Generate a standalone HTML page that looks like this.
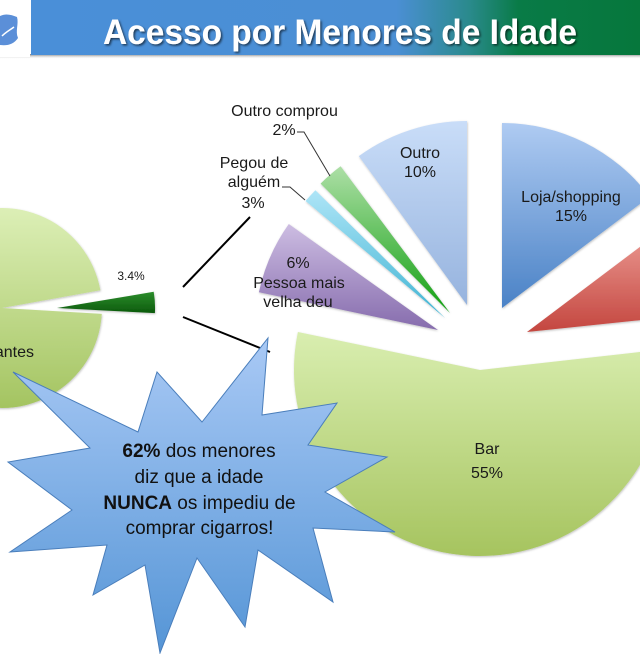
<!DOCTYPE html>
<html><head><meta charset="utf-8"><style>
html,body{margin:0;padding:0;background:#fff;}
svg{display:block;}
text{font-family:"Liberation Sans",sans-serif;}
</style></head><body>
<svg width="640" height="654" viewBox="0 0 640 654" xmlns="http://www.w3.org/2000/svg">
<defs>
<linearGradient id="bar" x1="0" y1="0" x2="1" y2="0">
<stop offset="0" stop-color="#4a8fd8"/><stop offset="0.6" stop-color="#4b8fd4"/><stop offset="0.72" stop-color="#2a8a8c"/><stop offset="0.8" stop-color="#097b47"/><stop offset="1" stop-color="#06773c"/>
</linearGradient>
<linearGradient id="shd" x1="0" y1="0" x2="0" y2="1"><stop offset="0" stop-color="#777"/><stop offset="1" stop-color="#fff" stop-opacity="0"/></linearGradient>
<linearGradient id="gLight" x1="0" y1="0" x2="0" y2="1"><stop offset="0" stop-color="#dcefb6"/><stop offset="1" stop-color="#a4c461"/></linearGradient>
<linearGradient id="gBar" x1="0" y1="0" x2="0" y2="1"><stop offset="0" stop-color="#d9eeb0"/><stop offset="1" stop-color="#a6c45f"/></linearGradient>
<linearGradient id="gDark" x1="0" y1="0" x2="0" y2="1"><stop offset="0" stop-color="#2c8d2c"/><stop offset="1" stop-color="#0c5a0c"/></linearGradient>
<linearGradient id="gLoja" x1="0" y1="0" x2="0" y2="1"><stop offset="0" stop-color="#afcbf2"/><stop offset="1" stop-color="#4a82c6"/></linearGradient>
<linearGradient id="gRed" x1="0" y1="0" x2="0" y2="1"><stop offset="0" stop-color="#efa29b"/><stop offset="1" stop-color="#c4463f"/></linearGradient>
<linearGradient id="gOutro" x1="0" y1="0" x2="0" y2="1"><stop offset="0" stop-color="#c9ddf8"/><stop offset="1" stop-color="#96b3de"/></linearGradient>
<linearGradient id="gGreen" x1="0" y1="0" x2="0" y2="1"><stop offset="0" stop-color="#addfa6"/><stop offset="1" stop-color="#12a012"/></linearGradient>
<linearGradient id="gCyan" x1="0" y1="0" x2="0" y2="1"><stop offset="0" stop-color="#aee5f7"/><stop offset="1" stop-color="#40b4d3"/></linearGradient>
<linearGradient id="gPurple" x1="0" y1="0" x2="0" y2="1"><stop offset="0" stop-color="#cdbde2"/><stop offset="1" stop-color="#866cad"/></linearGradient>
<linearGradient id="gStar" x1="0" y1="0" x2="0" y2="1"><stop offset="0" stop-color="#a9c9f5"/><stop offset="1" stop-color="#5595d6"/></linearGradient>
<filter id="ts" x="-5%" y="-20%" width="110%" height="150%"><feDropShadow dx="1.5" dy="1.5" stdDeviation="1" flood-color="#000" flood-opacity="0.6"/></filter>
<filter id="ps" x="-10%" y="-10%" width="120%" height="120%"><feDropShadow dx="0.5" dy="1" stdDeviation="1" flood-color="#000" flood-opacity="0.25"/></filter>
</defs>

<!-- header -->
<rect x="0" y="54" width="640" height="5" fill="url(#shd)"/>
<rect x="31" y="0" width="609" height="55" fill="url(#bar)"/>
<rect x="0" y="0" width="30" height="57" fill="#fff"/>
<path d="M0,16 C6,13 12,15 17,17 C19,24 15,31 18,38 C14,44 8,46 0,45 Z" fill="#5b8fd8"/>
<path d="M2,36 C6,32 10,30 14,27" stroke="#fff" stroke-width="1.5" fill="none"/>
<text x="103" y="44" font-size="35" font-weight="bold" fill="#fff" textLength="474" lengthAdjust="spacingAndGlyphs" filter="url(#ts)">Acesso por Menores de Idade</text>

<!-- left pie -->
<g filter="url(#ps)">
<path d="M2,308 L101.8,313.9 A100,100 0 1 1 100.4,290.3 Z" fill="url(#gLight)"/>
<path d="M57,308 L153.7,291.8 A98,98 0 0 1 154.9,313.1 Z" fill="url(#gDark)"/>
</g>
<text x="34" y="357" font-size="16" fill="#1a1a1a" text-anchor="end">Fumantes</text>
<text x="131" y="280" font-size="12" fill="#1a1a1a" text-anchor="middle">3.4%</text>

<!-- connector lines -->
<line x1="183" y1="287" x2="250" y2="217" stroke="#000" stroke-width="2"/>
<line x1="183" y1="317" x2="270" y2="352" stroke="#000" stroke-width="2"/>

<!-- right pie -->
<g filter="url(#ps)">
<path d="M480,370 L664.8,349.2 A186,186 0 1 1 297.9,332 Z" fill="url(#gBar)"/>
<path d="M502,308 L502,123 A185,185 0 0 1 649.7,196.7 Z" fill="url(#gLoja)"/>
<path d="M527,332 L674.7,220.7 A185,185 0 0 1 711,312.7 Z" fill="url(#gRed)"/>
<path d="M467,305 L358.8,156.1 A184,184 0 0 1 467,121 Z" fill="url(#gOutro)"/>
<path d="M450,313 L320.6,183.6 A183,183 0 0 1 340.6,166.3 Z" fill="url(#gGreen)"/>
<path d="M445,318 L305.6,201 A182,182 0 0 1 315.4,190.2 Z" fill="url(#gCyan)"/>
<path d="M438,330 L258.9,292.3 A183,183 0 0 1 288.8,224 Z" fill="url(#gPurple)"/>
</g>

<!-- leader lines -->
<path d="M297,132 L304,132 L330,176" stroke="#333" stroke-width="1" fill="none"/>
<path d="M282,187 L290,187 L305,200" stroke="#333" stroke-width="1" fill="none"/>

<g font-size="16" fill="#1a1a1a" text-anchor="middle">
<text x="284.5" y="116">Outro comprou</text>
<text x="284" y="135">2%</text>
<text x="254" y="168">Pegou de</text>
<text x="254" y="187">alguém</text>
<text x="253" y="208">3%</text>
<text x="420" y="158">Outro</text>
<text x="420" y="177">10%</text>
<text x="298" y="268">6%</text>
<text x="299" y="288">Pessoa mais</text>
<text x="298" y="307">velha deu</text>
<text x="571" y="202">Loja/shopping</text>
<text x="571" y="221">15%</text>
<text x="487" y="454">Bar</text>
<text x="487" y="478">55%</text>
</g>

<!-- star -->
<polygon points="13,372 138,432 157,372 202,422 268,338 262,415 337,403 308,445 387,457 325,492 395,532 313,528 333,602 258,550 245,627 197,558 160,653 145,565 93,595 107,545 10,552 72,510 8,462 90,448" fill="url(#gStar)" stroke="#4a7ebb" stroke-width="1"/>
<g font-size="19" fill="#111" text-anchor="middle">
<text x="199" y="457"><tspan font-weight="bold">62%</tspan> dos menores</text>
<text x="199" y="483">diz que a idade</text>
<text x="199.5" y="509"><tspan font-weight="bold">NUNCA</tspan> os impediu de</text>
<text x="199.5" y="534">comprar cigarros!</text>
</g>
</svg>
</body></html>
